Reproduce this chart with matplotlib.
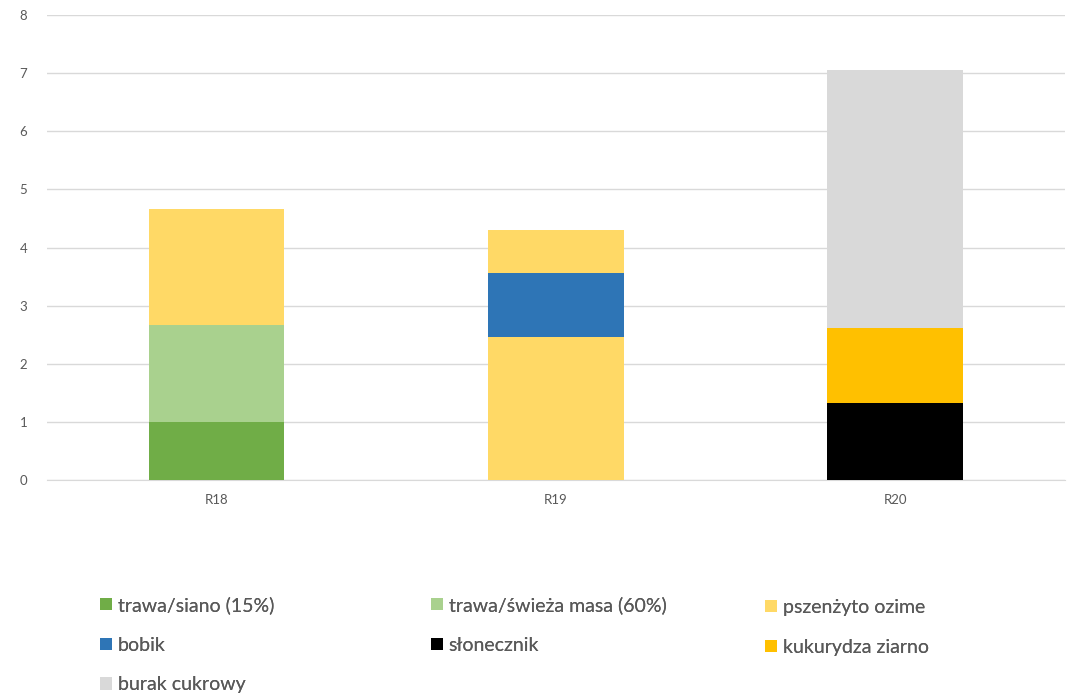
import numpy as np
import matplotlib.pyplot as plt

# data
categories = ['R18', 'R19', 'R20']
trawa_siano = [1.0, 0, 0]
trawa_swieza = [1.67, 0, 0]
pszenzyto = [1.99, 2.46, 0]
bobik = [0, 1.10, 0]
pszenzyto_2 = [0, 0.74, 0]  # second triticale block in R19, not in legend
slonecznik = [0, 0, 1.33]
kukurydza = [0, 0, 1.29]
burak = [0, 0, 4.43]

series = [
    ('trawa/siano (15%)', trawa_siano, '#70AD47'),
    ('trawa/świeża masa (60%)', trawa_swieza, '#A9D18E'),
    ('pszenżyto ozime', pszenzyto, '#FFD966'),
    ('bobik', bobik, '#2E75B6'),
    ('_pszenzyto2', pszenzyto_2, '#FFD966'),
    ('słonecznik', slonecznik, '#000000'),
    ('kukurydza ziarno', kukurydza, '#FFC000'),
    ('burak cukrowy', burak, '#D9D9D9'),
]

plt.rcParams['font.family'] = ['Lato', 'DejaVu Sans']

fig = plt.figure(figsize=(10.76, 7), dpi=100)
ax = fig.add_axes([0.0434, 0.3139, 0.9464, 0.6647])

x = np.arange(len(categories))
bottom = np.zeros(len(categories))
handles = {}
for label, vals, color in series:
    vals = np.array(vals, dtype=float)
    b = ax.bar(x, vals, width=0.4, bottom=bottom, color=color, label=label, zorder=3)
    handles[label] = b
    bottom += vals

ax.set_xlim(-0.5, len(categories) - 0.5)
ax.set_ylim(0, 8)
ax.set_yticks(range(0, 9))
ax.set_xticks(x)
ax.set_xticklabels(categories)
ax.tick_params(axis='both', length=0, labelsize=9.5, colors='#595959')
ax.tick_params(axis='y', pad=14)
ax.tick_params(axis='x', pad=10)
ax.yaxis.grid(True, color='#D9D9D9', linewidth=1, zorder=0)
for s in ['top', 'right', 'left']:
    ax.spines[s].set_visible(False)
ax.spines['bottom'].set_color('#D9D9D9')

# legend: three columns laid out row by row, one legend per column
columns = [
    (100, 596, ['trawa/siano (15%)', 'bobik', 'burak cukrowy']),
    (431, 596, ['trawa/świeża masa (60%)', 'słonecznik']),
    (765, 599, ['pszenżyto ozime', 'kukurydza ziarno']),
]
W, H = 1076, 700
for xpix, ypix, labels in columns:
    leg = fig.legend([handles[k] for k in labels], labels, ncol=1,
                     loc='upper left', bbox_to_anchor=(xpix / W, 1 - ypix / H),
                     bbox_transform=fig.transFigure,
                     frameon=False, fontsize=14, labelcolor='#595959',
                     handlelength=0.62, handleheight=0.62, handletextpad=0.3,
                     labelspacing=1.17, borderaxespad=0, borderpad=0)
    fig.add_artist(leg)

fig.savefig('out.png', dpi=100)
